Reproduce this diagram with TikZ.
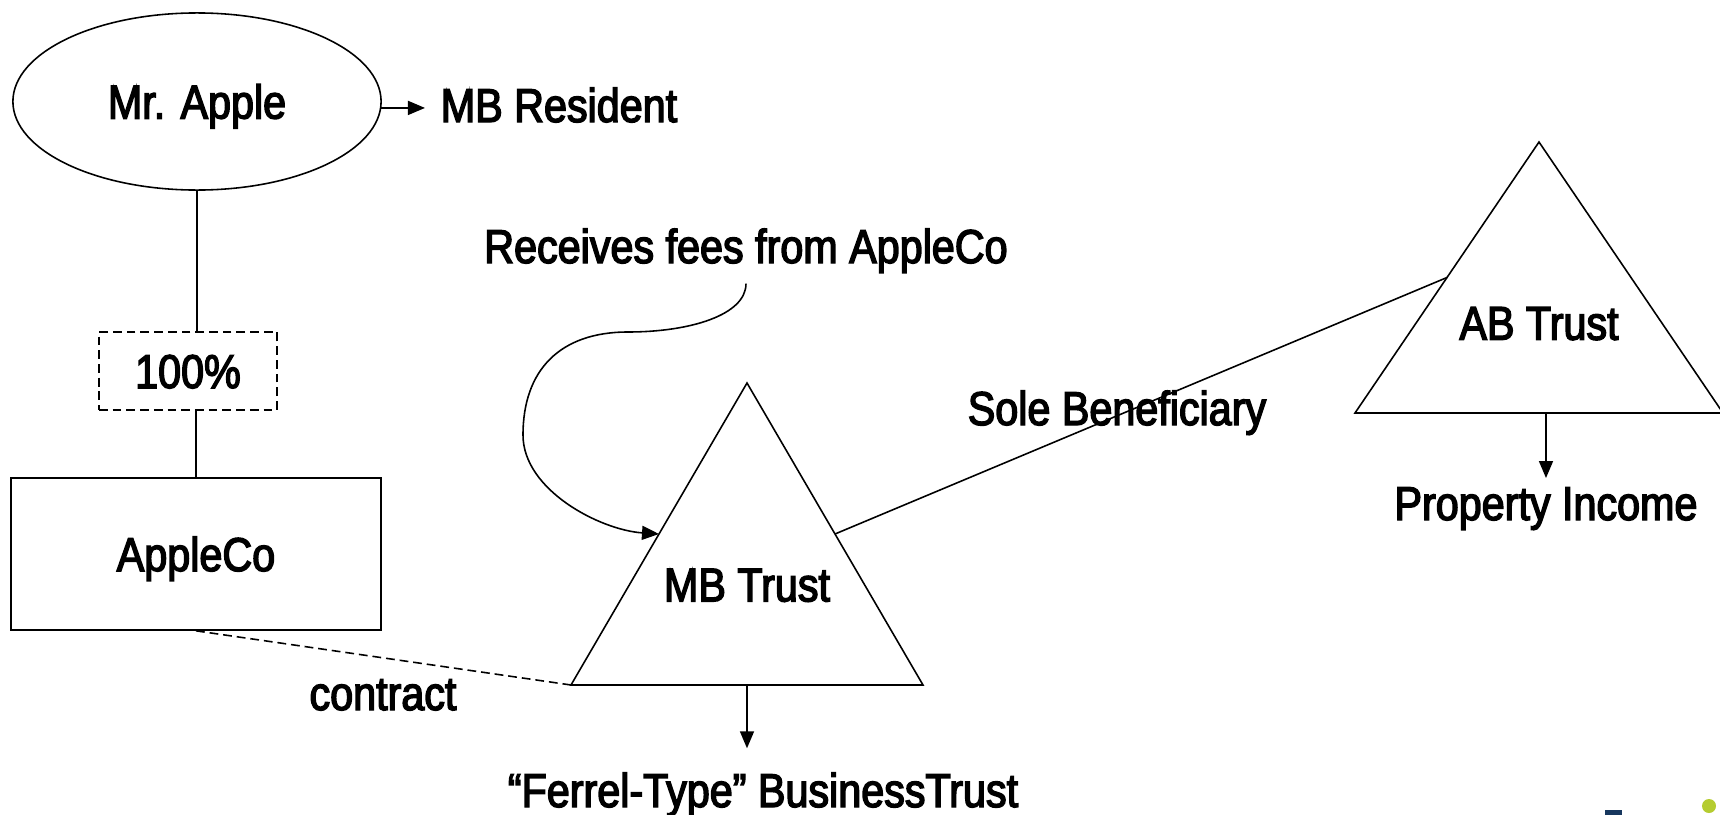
\documentclass[tikz,border=0pt]{standalone}
\usepackage{fontspec}
\setmainfont{Liberation Sans}[FakeStretch=0.87,FakeBold=3]
\usetikzlibrary{shapes.geometric,arrows.meta,calc}
\definecolor{logoblue}{HTML}{17375E}
\definecolor{logogreen}{HTML}{B5CC30}

\begin{document}
\begin{tikzpicture}[x=0.01cm,y=-0.01cm,line width=0.45pt,
    every node/.style={font=\fontsize{13.5pt}{16pt}\selectfont,inner sep=0pt},
    capbox/.style={draw,text height=9.7pt,text depth=0pt},
    capmid/.style={text height=9.7pt,text depth=0pt},
    arr/.style={-{Triangle[length=0.17cm,width=0.14cm]}},
    dashline/.style={dash pattern=on 2.5pt off 1.4pt}]
    \clip (0,0) rectangle (1720,815);
    % Mr. Apple, his share and the company he owns
    \node[capbox,ellipse,minimum width=3.68cm,minimum height=1.77cm] (apple) at (197,101.5) {Mr. Apple};
    \node[anchor=base west] (resident) at (440,122) {MB Resident};
    \draw[arr,shorten >=0.15cm] (apple.-2.3) -- (apple.-2.3 -| resident.west);
    \node[capbox,dashline,minimum width=1.78cm,minimum height=0.78cm] (share) at (188,371) {100\%};
    \node[capbox,minimum width=3.7cm,minimum height=1.52cm] (appleco) at (196,554) {AppleCo};
    \draw (apple.south) -- (share.north -| apple.south);
    \draw (share.south -| appleco.north) -- (appleco.north);
    % The two trusts are drawn as triangles, corners named
    \coordinate (mbtop) at (747,383);
    \coordinate (mbleft) at (571,685);
    \coordinate (mbright) at (923,685);
    \coordinate (mbbase) at ($(mbleft)!0.5!(mbright)$);
    \coordinate (mbwest) at ($(mbtop)!0.5!(mbleft)$);
    \coordinate (mbeast) at ($(mbtop)!0.5!(mbright)$);
    \draw (mbtop) -- (mbleft) -- (mbright) -- cycle;
    \node[capmid] (mbtrust) at ($(mbtop)!2/3!(mbbase)$) {MB Trust};
    \coordinate (abtop) at (1539,142);
    \coordinate (ableft) at (1355,413);
    \coordinate (abright) at (1723,413);
    \coordinate (abbase) at ($(ableft)!0.5!(abright)$);
    \coordinate (abwest) at ($(abtop)!0.5!(ableft)$);
    \draw (abtop) -- (ableft) -- (abright) -- cycle;
    \node[capmid] (abtrust) at ($(abtop)!2/3!(abbase)$) {AB Trust};
    % Links between the entities
    \draw[dashline] (appleco.south) -- (mbleft);
    \node[anchor=base] (contract) at (383,710) {contract};
    \draw (mbeast) -- (abwest);
    \node[anchor=base] (sole) at (1117,425) {Sole Beneficiary};
    \node[anchor=base] (fees) at (746,263) {Receives fees from AppleCo};
    \draw[arr,shorten <=0.1cm] (fees.south) .. controls (746,315) and (690,332) .. (628,332)
        .. controls (560,332) and (523,370) .. (523,435)
        .. controls (523,490) and (600,530) .. (mbwest);
    \node[anchor=base] (ferrel) at (763,807) {“Ferrel-Type” BusinessTrust};
    \draw[arr,shorten >=0.235cm] (mbbase) -- (mbbase |- ferrel.north);
    \node[anchor=base] (income) at (1546,520) {Property Income};
    \draw[arr,shorten >=0.085cm] (abbase -| income.north) -- (income.north);
    % Corner of the logo, cut off by the page edge
    \fill[logoblue] (1605,810) rectangle (1622,820);
    \fill[logogreen] (1709,806) circle[radius=0.07cm];
\end{tikzpicture}
\end{document}
